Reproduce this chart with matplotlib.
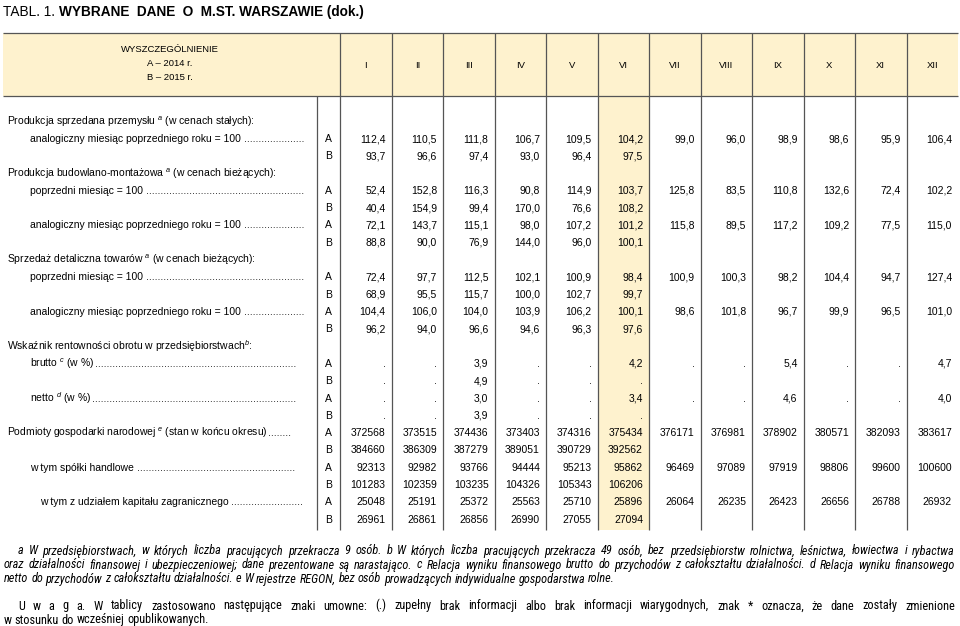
import matplotlib
matplotlib.use("Agg")
import matplotlib.pyplot as plt
from matplotlib import font_manager
from matplotlib.patches import Rectangle

# ====================================================
# Data
# ====================================================

months = ["I", "II", "III", "IV", "V", "VI", "VII", "VIII", "IX", "X", "XI", "XII"]

prod_przem_A = [112.4, 110.5, 111.8, 106.7, 109.5, 104.2, 99.0, 96.0, 98.9, 98.6, 95.9, 106.4]
prod_przem_B = [93.7, 96.6, 97.4, 93.0, 96.4, 97.5]

bud_pop_A = [52.4, 152.8, 116.3, 90.8, 114.9, 103.7, 125.8, 83.5, 110.8, 132.6, 72.4, 102.2]
bud_pop_B = [40.4, 154.9, 99.4, 170.0, 76.6, 108.2]
bud_anal_A = [72.1, 143.7, 115.1, 98.0, 107.2, 101.2, 115.8, 89.5, 117.2, 109.2, 77.5, 115.0]
bud_anal_B = [88.8, 90.0, 76.9, 144.0, 96.0, 100.1]

det_pop_A = [72.4, 97.7, 112.5, 102.1, 100.9, 98.4, 100.9, 100.3, 98.2, 104.4, 94.7, 127.4]
det_pop_B = [68.9, 95.5, 115.7, 100.0, 102.7, 99.7]
det_anal_A = [104.4, 106.0, 104.0, 103.9, 106.2, 100.1, 98.6, 101.8, 96.7, 99.9, 96.5, 101.0]
det_anal_B = [96.2, 94.0, 96.6, 94.6, 96.3, 97.6]

brutto_A = [None, None, 3.9, None, None, 4.2, None, None, 5.4, None, None, 4.7]
brutto_B = [None, None, 4.9, None, None, None]
netto_A = [None, None, 3.0, None, None, 3.4, None, None, 4.6, None, None, 4.0]
netto_B = [None, None, 3.9, None, None, None]

podmioty_A = [372568, 373515, 374436, 373403, 374316, 375434, 376171, 376981, 378902, 380571, 382093, 383617]
podmioty_B = [384660, 386309, 387279, 389051, 390729, 392562]
spolki_A = [92313, 92982, 93766, 94444, 95213, 95862, 96469, 97089, 97919, 98806, 99600, 100600]
spolki_B = [101283, 102359, 103235, 104326, 105343, 106206]
zagr_A = [25048, 25191, 25372, 25563, 25710, 25896, 26064, 26235, 26423, 26656, 26788, 26932]
zagr_B = [26961, 26861, 26856, 26990, 27055, 27094]

title_reg = "TABL. 1. "
title_bold = "WYBRANE  DANE  O  M.ST. WARSZAWIE (dok.)"
header_lines = ["WYSZCZEGÓLNIENIE", "A – 2014 r.", "B – 2015 r."]

footnotes = [
    "a W przedsiębiorstwach, w których liczba pracujących przekracza 9 osób. b W których liczba pracujących przekracza 49 osób, bez przedsiębiorstw rolnictwa, leśnictwa, łowiectwa i rybactwa",
    "oraz działalności finansowej i ubezpieczeniowej; dane prezentowane są narastająco. c Relacja wyniku finansowego brutto do przychodów z całokształtu działalności. d Relacja wyniku finansowego",
    "netto do przychodów z całokształtu działalności. e W rejestrze REGON, bez osób prowadzących indywidualne gospodarstwa rolne.",
]
uwaga = [
    "U w a g a. W tablicy zastosowano następujące znaki umowne: (.) zupełny brak informacji albo brak informacji wiarygodnych, znak * oznacza, że dane zostały zmienione",
    "w stosunku do wcześniej opublikowanych.",
]

# body lines: (label, label x, dots end, A/B mark, values, decimals)
body = [
    ("Produkcja sprzedana przemysłu ${}^{a}$ (w cenach stałych):", 7, None, None, None, 1),
    ("analogiczny miesiąc poprzedniego roku = 100", 30, 305, "A", prod_przem_A, 1),
    ("", 30, None, "B", prod_przem_B, 1),
    ("Produkcja budowlano-montażowa ${}^{a}$ (w cenach bieżących):", 7, None, None, None, 1),
    ("poprzedni miesiąc = 100", 30, 305, "A", bud_pop_A, 1),
    ("", 30, None, "B", bud_pop_B, 1),
    ("analogiczny miesiąc poprzedniego roku = 100", 30, 305, "A", bud_anal_A, 1),
    ("", 30, None, "B", bud_anal_B, 1),
    ("Sprzedaż detaliczna towarów ${}^{a}$ (w cenach bieżących):", 7, None, None, None, 1),
    ("poprzedni miesiąc = 100", 30, 305, "A", det_pop_A, 1),
    ("", 30, None, "B", det_pop_B, 1),
    ("analogiczny miesiąc poprzedniego roku = 100", 30, 305, "A", det_anal_A, 1),
    ("", 30, None, "B", det_anal_B, 1),
    ("Wskaźnik rentowności obrotu w przedsiębiorstwach${}^{b}$:", 7, None, None, None, 1),
    ("brutto ${}^{c}$ (w %)", 30, 297, "A", brutto_A, 1),
    ("", 30, None, "B", brutto_B, 1),
    ("netto ${}^{d}$ (w %)", 30, 297, "A", netto_A, 1),
    ("", 30, None, "B", netto_B, 1),
    ("Podmioty gospodarki narodowej ${}^{e}$ (stan w końcu okresu)", 7, 294, "A", podmioty_A, 0),
    ("", 7, None, "B", podmioty_B, 0),
    ("w tym spółki handlowe", 30, 297, "A", spolki_A, 0),
    ("", 30, None, "B", spolki_B, 0),
    ("w tym z udziałem kapitału zagranicznego", 40, 304, "A", zagr_A, 0),
    ("", 40, None, "B", zagr_B, 0),
]


def fmt(v, dec):
    if v is None:
        return "."
    if dec == 0:
        return f"{int(v)}"
    return f"{v:.{dec}f}".replace(".", ",")


# ====================================================
# Figure
# ====================================================

plt.rcParams["font.family"] = ["Liberation Sans", "DejaVu Sans"]
plt.rcParams["mathtext.fontset"] = "custom"
plt.rcParams["mathtext.rm"] = "Liberation Sans"
plt.rcParams["mathtext.it"] = "Liberation Sans:italic"

W, H = 960, 626
fig = plt.figure(figsize=(W / 100, H / 100), dpi=100)
ax = fig.add_axes([0, 0, 1, 1])
ax.set_xlim(0, W)
ax.set_ylim(H, 0)
ax.axis("off")
renderer = fig.canvas.get_renderer()


def wpx(t):
    return t.get_window_extent(renderer).width


beige = "#FEF2CE"
line_c = "#555555"
fs_body = 7.5
fs_head = 6.8

col_left = 340.0
col_w = 51.5
ab_x = 328.5
top_y, head_y, bot_y = 33, 96, 530

# background
ax.add_patch(Rectangle((3, top_y), 955, head_y - top_y, fc=beige, ec="none", zorder=0))
ax.add_patch(Rectangle((col_left + 5 * col_w, head_y), col_w, bot_y - head_y, fc=beige, ec="none", zorder=0))

# grid lines
ax.hlines([top_y, head_y], 3, 958, color=line_c, lw=0.9)
ax.vlines([col_left + k * col_w for k in range(12)], top_y, bot_y, color=line_c, lw=0.9)
ax.vlines(317, head_y, bot_y, color=line_c, lw=0.9)

# title
t = ax.text(3, 16, title_reg, fontsize=9.8, va="baseline", ha="left")
ax.text(3 + wpx(t), 16, title_bold, fontsize=9.8, fontweight="bold", va="baseline", ha="left")

# header
for yy, s in zip([49, 63.5, 78], header_lines):
    ax.text(170, yy, s, fontsize=fs_head, ha="center", va="center")
for k, m in enumerate(months):
    ax.text(col_left + (k + 0.5) * col_w, 65, m, fontsize=fs_head, ha="center", va="center")

# body
dot_t = ax.text(0, 0, "." * 40, fontsize=fs_body)
dot_w = wpx(dot_t) / 40
dot_t.remove()

row0, dy = 121.0, 17.3
for i, (label, lx, dots_end, mark, vals, dec) in enumerate(body):
    yb = row0 + i * dy + 3.7
    if label:
        lt = ax.text(lx, yb, label + " ", fontsize=fs_body, ha="left", va="baseline")
        if dots_end is not None:
            x_end = lx + wpx(lt)
            n = int((dots_end - x_end) / dot_w)
            ax.text(x_end, yb, "." * max(n, 0), fontsize=fs_body, ha="left", va="baseline")
    if mark:
        ax.text(ab_x, yb, mark, fontsize=fs_body, ha="center", va="baseline")
    if vals is not None:
        for k, v in enumerate(vals):
            ax.text(col_left + (k + 1) * col_w - 6, yb, fmt(v, dec), fontsize=fs_body,
                    ha="right", va="baseline")

# footnotes: prefer a narrow face, like the original
names = {f.name for f in font_manager.fontManager.ttflist}
foot_fam = "Liberation Sans"
for cand in ["Liberation Sans Narrow", "Roboto Condensed", "Open Sans Condensed"]:
    if cand in names:
        foot_fam = cand
        break
probe = ax.text(0, 0, footnotes[2], fontsize=8, family=foot_fam, style="italic")
fs_foot = min(8 * 626 / wpx(probe), 8.8)
probe.remove()


def draw_line(s, x0, y, x1=None, style="italic"):
    words = s.split(" ")
    kw = dict(fontsize=fs_foot, family=foot_fam, style=style)
    ts = [ax.text(0, y, w_, ha="left", va="baseline", **kw) for w_ in words]
    widths = [wpx(t_) for t_ in ts]
    if x1 is None:
        a = ax.text(0, 0, "x x", **kw)
        b = ax.text(0, 0, "xx", **kw)
        gap = wpx(a) - wpx(b)
        a.remove()
        b.remove()
    else:
        gap = (x1 - x0 - sum(widths)) / (len(words) - 1)
    x = x0
    for t_, w_ in zip(ts, widths):
        t_.set_x(x)
        x += w_ + gap


draw_line(footnotes[0], 18, 554.5, 955)
draw_line(footnotes[1], 4, 568.5, 955)
draw_line(footnotes[2], 4, 582.5)
draw_line(uwaga[0], 18, 609.5, 955, style="normal")
draw_line(uwaga[1], 4, 623.5, style="normal")

fig.savefig("out.png", dpi=100)
